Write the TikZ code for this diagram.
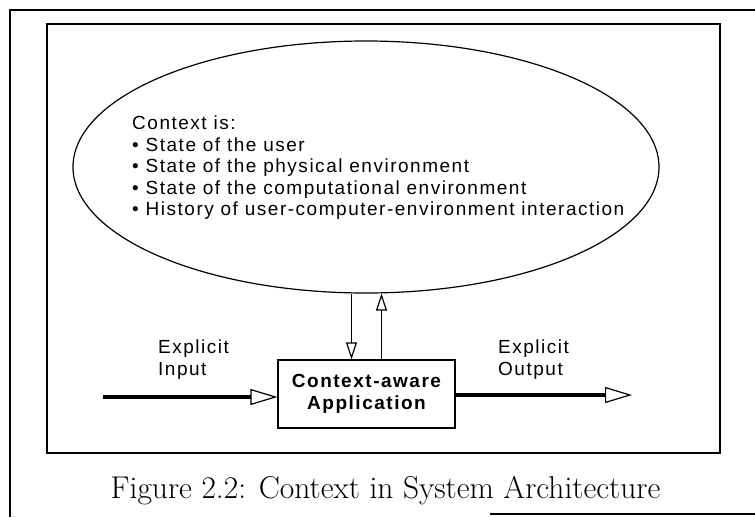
\documentclass[tikz,border=0pt]{standalone}
\usepackage{fontspec}
\usepackage{tikz}
\usetikzlibrary{shapes.geometric,arrows.meta}
\newfontfamily\figfont{Liberation Sans}[LetterSpace=8]

\begin{document}
\begin{tikzpicture}[x=1pt,y=-1pt]

        % Styles
        \tikzset{
          frame/.style={draw,line width=1.4pt},
          ctxcloud/.style={ellipse,draw,line width=1.2pt,minimum width=586pt,
                       minimum height=252pt,inner sep=0pt},
          appbox/.style={rectangle,draw,line width=1.2pt,minimum width=177pt,
                       minimum height=68pt,align=center,
                       font=\figfont\bfseries\fontsize{19}{21.5}\selectfont},
          lbl/.style={align=left,inner sep=0pt,anchor=north west,
                       font=\figfont\fontsize{19}{21.5}\selectfont},
          thickarrow/.style={line width=4pt,
                       -{Triangle[length=27pt,width=16pt,fill=white,line width=1.2pt]}},
          thinarrow/.style={line width=1.2pt,
                       -{Triangle[length=17pt,width=11pt,fill=white,line width=1.2pt]}}
        }

        % y-coordinates
        \def\yctx{167}     % centre of the ellipse
        \def\yapp{394}     % centre of the box
        \def\ycap{498}     % caption baseline

        \useasboundingbox (0,0) rectangle (755,517);

        %-------------------------------
        % Frames
        %-------------------------------
        \draw[frame] (755,10) -- (10,10) -- (10,517);
        \draw[frame] (47,24) rectangle (720,453);
        \draw[frame] (490,514) -- (755,514);

        %-------------------------------
        % Context ellipse
        %-------------------------------
        \node[ctxcloud] (ctx) at (366,\yctx) {};
        \node[lbl] (ctxtext) at (132,116)
        {Context is:\\
         \textbullet\ State of the user\\
         \textbullet\ State of the physical environment\\
         \textbullet\ State of the computational environment\\
         \textbullet\ History of user-computer-environment interaction};

        %-------------------------------
        % Application box
        %-------------------------------
        \node[appbox] (app) at (366.5,\yapp) {Context-aware\\Application};

        % Arrows between ellipse and box
        \coordinate (dn) at ([xshift=-15pt]app.north);
        \coordinate (up) at ([xshift=15pt]app.north);
        \draw[thinarrow] (dn |- ctx.south) -- (dn);
        \draw[thinarrow] (up) -- (up |- ctx.south);

        %-------------------------------
        % Explicit input and output
        %-------------------------------
        \coordinate (inStart) at (103,397);
        \coordinate (outEnd) at (632,395);
        \draw[thickarrow] (inStart) -- (inStart -| app.west);
        \draw[thickarrow] (app.east |- outEnd) -- (outEnd);

        \node[lbl] (inlbl) at (158,340) {Explicit\\Input};
        \node[lbl] (outlbl) at (498,340) {Explicit\\Output};

        %-------------------------------
        % Caption
        %-------------------------------
        \node[anchor=base,inner sep=0pt,font=\fontsize{31.5}{35}\selectfont]
          (caption) at (385.5,\ycap) {Figure 2.2: Context in System Architecture};

\end{tikzpicture}
\end{document}
